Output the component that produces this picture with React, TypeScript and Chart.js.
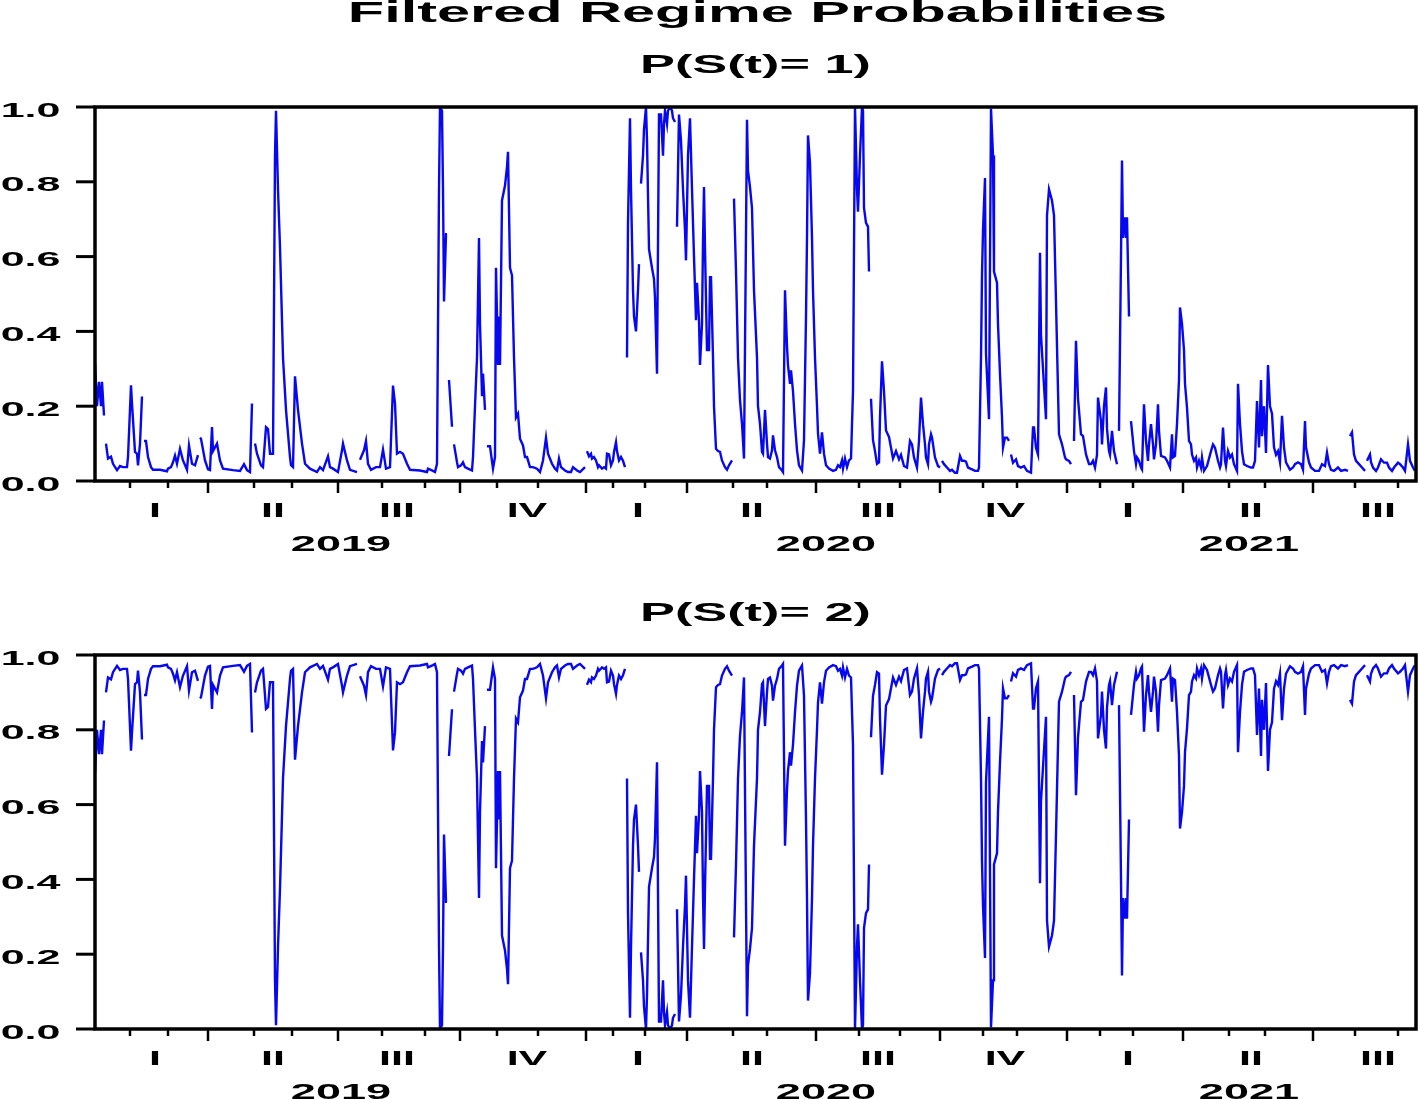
import React, { useEffect, useRef } from 'react';
import { Chart, registerables } from 'chart.js';

Chart.register(...registerables);

// ---- axis data ----
const X_MIN = 0;
const X_MAX = 660.5;
const yTickValues = [0, 0.2, 0.4, 0.6, 0.8, 1.0];
const monthTickPos = [17.5, 36.5, 56.5, 79.5, 98.5, 121.5, 143.5, 165, 182.5, 201, 221.5, 245.5, 259, 275, 296, 319, 336, 360.5, 382, 402.5, 422.5, 444, 461, 486, 502.5, 519, 544, 567, 585, 609, 630, 651.5];
const quarterTickPos = [56.5, 121.5, 182.5, 245.5, 296, 360.5, 422.5, 486, 544, 609];
const quarterLabels = ['I', 'II', 'III', 'IV', 'I', 'II', 'III', 'IV', 'I', 'II', 'III'];
const quarterLabelPos = [30, 89, 151, 216, 271.5, 328.5, 391.5, 455, 516.5, 578, 641.5];
const yearLabels = ['2019', '2020', '2021'];
const yearLabelPos = [123, 365.5, 577];

// ---- series: [observation index, probability] (null = missing) ----
const regime1Points: [number, number | null][] = [
  [0,0.315],[1,0.2],[2,0.265],[3,0.2],[3.5,0.265],[4.5,0.175],[5,null],
  [5.5,0.1],[6.5,0.06],[8,0.065],[9,0.046],[11,0.029],[12.5,0.04],[14,0.037],[16,0.037],[16.5,0.064],[18,0.256],[18.5,0.207],[20,0.078],[21,0.073],[21.5,0.042],[22.5,0.1],[23.5,0.226],[24,null],
  [24.5,0.107],[25.5,0.107],[26.5,0.064],[28,0.037],[29,0.03],[32.5,0.03],[36,0.026],[36.5,0.033],[38,0.037],[39,0.05],[40,0.068],[41,0.046],[42.5,0.086],[44,0.055],[46,0.03],[47,0.095],[48.5,0.046],[50,0.042],[51.5,0.069],[52,null],
  [52.5,0.116],[53,0.113],[55,0.055],[56.5,0.031],[57.5,0.029],[58.5,0.144],[59,0.08],[61,0.1],[62.5,0.055],[64,0.033],[69,0.029],[72.5,0.027],[74.5,0.045],[76,0.029],[77.5,0.024],[78.5,0.207],[79.5,null],
  [80,0.1],[81,0.073],[83,0.042],[84,0.037],[85.5,0.144],[86.5,0.139],[87.5,0.073],[89,0.073],[90,0.87],[90.5,0.99],[91.5,0.78],[92.5,0.625],[94,0.33],[95.5,0.19],[97.5,0.064],[98,0.042],[99,0.037],[100,0.28],[101.5,0.19],[103.5,0.1],[105,0.046],[107.5,0.033],[111,0.024],[112.5,0.037],[114,0.029],[116.5,0.066],[117.5,0.037],[119,0.033],[121.5,0.024],[123.5,0.082],[124,0.1],[126,0.055],[127.5,0.03],[131,0.024],[132,null],
  [132.5,0.057],[134.5,0.082],[135.5,0.107],[136.5,0.046],[138,0.03],[140.5,0.037],[142.5,0.037],[144,0.084],[145.5,0.033],[147.5,0.037],[149,0.255],[150,0.207],[151,0.073],[152.5,0.078],[154,0.073],[156,0.046],[157.5,0.03],[162.5,0.028],[166,0.024],[166.5,0.033],[169,0.027],[170,0.024],[171,0.046],[172,0.78],[172.5,1.0],[173.5,0.99],[174,0.78],[174.5,0.48],[175.5,0.66],[176,0.66],[176.5,null],
  [177,0.27],[178.5,0.145],[179,null],
  [179.5,0.098],[181,0.05],[181.5,0.037],[183,0.042],[184,0.05],[185,0.037],[186.5,0.033],[188.5,0.028],[189,0.064],[190,0.2],[191,0.33],[192,0.65],[192.5,0.42],[193.5,0.23],[194,0.287],[195,0.19],[195.5,null],
  [196,0.093],[197.5,0.093],[199,0.033],[200,0.064],[200.5,0.57],[201.5,0.31],[202,0.44],[202.5,0.31],[203.5,0.75],[205,0.79],[206,0.84],[206.5,0.88],[207.5,0.57],[208.5,0.55],[209.5,0.33],[210.5,0.17],[211.5,0.18],[212.5,0.113],[214,0.095],[215,0.064],[216,0.064],[217.5,0.037],[219,0.037],[221,0.033],[222.5,0.024],[224,0.055],[225.5,0.116],[226.5,0.073],[228.5,0.046],[230,0.033],[231,0.028],[232,0.06],[233,0.037],[235,0.028],[236.5,0.024],[238,0.024],[239,0.037],[241,0.028],[242.5,0.024],[245,0.037],[245.5,null],
  [246,0.08],[247,0.066],[248,0.073],[248.5,0.06],[249.5,0.064],[250.5,0.055],[251.5,0.037],[252,0.042],[253.5,0.033],[254.5,0.037],[255.5,0.033],[256,0.073],[257,0.071],[258,0.042],[259,0.055],[259.5,0.078],[260.5,0.104],[261,0.08],[262,0.055],[263,0.064],[264,0.054],[265,0.037],[265.5,null],
  [266,0.33],[266.5,0.69],[267.5,0.97],[268,0.78],[269,0.51],[269.5,0.44],[270.5,0.4],[271.5,0.51],[272,0.58],[272.5,null],
  [273,0.795],[274,0.87],[274.5,0.94],[275.5,1.0],[276,0.91],[277,0.62],[278.5,0.57],[279.5,0.54],[280,0.49],[281,0.287],[282,0.98],[283,0.98],[284,0.87],[284.5,0.955],[285,0.99],[286,0.955],[286.5,0.99],[287.5,1.0],[288.5,0.99],[289,0.97],[290,0.96],[290.5,null],
  [291,0.68],[292,0.98],[293,0.91],[294,0.78],[295,0.67],[295.5,0.59],[296.5,0.87],[297.5,0.97],[298.5,0.78],[299.5,0.6],[300.5,0.43],[301,0.53],[302,0.43],[302.5,0.31],[303.5,0.42],[304,0.64],[304.5,0.786],[305,0.62],[306,0.35],[307,0.35],[307.5,0.545],[308,0.545],[309,0.33],[309.5,0.2],[310.5,0.086],[311.5,0.08],[312.5,0.078],[313.5,0.055],[315,0.037],[316,0.03],[317,0.042],[318.5,0.055],[319,null],
  [319.5,0.755],[320.5,0.56],[321.5,0.33],[322.5,0.216],[323.5,0.153],[324.5,0.06],[326,0.966],[326.5,0.83],[327.5,0.786],[328.5,0.73],[329.5,0.51],[331,0.33],[331.5,0.2],[332.5,0.153],[333.5,0.078],[334,0.073],[335,0.19],[336,0.1],[336.5,0.064],[337.5,0.06],[338.5,0.082],[339,0.122],[340,0.082],[341,0.064],[342,0.037],[343.5,0.028],[344,0.024],[345,0.51],[346,0.36],[346.5,0.31],[347.5,0.26],[348,0.296],[349,0.24],[350,0.153],[351,0.082],[352,0.042],[353.5,0.028],[354.5,0.109],[355.5,0.44],[356,0.65],[356.5,0.924],[357.5,0.85],[358.5,0.65],[359,0.51],[360,0.33],[361,0.2],[361.5,0.127],[362.5,0.073],[363.5,0.13],[364.5,0.073],[365.5,0.042],[367,0.033],[369,0.027],[370.5,0.03],[371.5,0.042],[372.5,0.037],[373.5,0.055],[374,0.033],[375,0.06],[376,0.037],[377,0.055],[378,0.06],[379,0.24],[380,1.0],[381,0.78],[381.5,0.72],[382.5,0.87],[383.5,1.0],[384,0.99],[384.5,0.73],[385.5,0.69],[386.5,0.68],[387,0.56],[387.5,null],
  [388,0.22],[389,0.109],[390,0.08],[391,0.046],[392,0.05],[392.5,0.17],[393.5,0.32],[394.5,0.24],[395.5,0.135],[397,0.118],[399,0.06],[400.5,0.08],[402,0.058],[403,0.07],[404.5,0.04],[406,0.036],[407.5,0.107],[408.5,0.098],[409.5,0.063],[411,0.036],[412,0.107],[413,0.223],[414,0.152],[415,0.098],[415.5,0.063],[416.5,0.045],[417,0.098],[418,0.125],[418.5,0.116],[420,0.063],[421.5,0.04],[422.5,0.036],[423,null],
  [423.5,0.054],[424.5,0.045],[426,0.036],[427.5,0.027],[428.5,0.03],[430,0.022],[431,0.022],[432.5,0.067],[433.5,0.054],[434.5,0.054],[435.5,0.052],[436.5,0.036],[438.5,0.031],[440,0.027],[441.5,0.027],[442,0.036],[443,0.33],[443.5,0.55],[444,0.67],[445,0.81],[445.5,0.34],[447,0.165],[448,0.996],[449,0.87],[449.5,0.56],[451,0.53],[451.5,0.42],[452.5,0.286],[453.5,0.17],[454,0.089],[455,0.116],[456,0.116],[457,0.107],[457.5,null],
  [458,0.071],[459,0.049],[460.5,0.058],[461.5,0.04],[463,0.036],[464.5,0.04],[466,0.027],[468,0.022],[469,0.143],[469.5,0.143],[470.5,0.089],[471.5,0.071],[472.5,0.61],[473,0.39],[475.5,0.165],[476,0.71],[477,0.78],[478.5,0.75],[479.5,0.71],[480.5,0.48],[481,0.36],[482,0.125],[483.5,0.098],[485,0.063],[485.5,0.058],[487,0.054],[488,0.045],[489,null],
  [489.5,0.107],[490.5,0.375],[491.5,0.22],[493,0.125],[494,0.12],[495.5,0.071],[497,0.045],[498,0.045],[499,0.054],[500,0.036],[501,0.07],[501.5,0.223],[503,0.16],[503.5,0.098],[504.5,0.2],[505.5,0.25],[506,0.14],[507,0.08],[507.5,0.07],[508.5,0.134],[509.5,0.08],[511,0.045],[511.5,null],
  [512,0.134],[513,0.6],[513.5,0.857],[514,0.65],[515,0.705],[515.5,0.65],[516,0.705],[517,0.44],[517.5,null],
  [518,0.16],[519.5,0.08],[520.5,0.045],[521,0.063],[522,0.054],[523,0.036],[523.5,0.031],[524.5,0.205],[525.5,0.107],[526.5,0.054],[527,0.098],[528,0.152],[529,0.098],[529.5,0.058],[530.5,0.098],[531.5,0.205],[532,0.134],[533,0.067],[535,0.063],[536,0.054],[537.5,0.036],[538.5,0.125],[539,0.063],[540,0.067],[541,0.152],[542,0.27],[542.5,0.464],[543.5,0.42],[544.5,0.35],[545,0.26],[546,0.196],[547,0.107],[548,0.098],[548.5,0.071],[549.5,0.054],[550.5,0.063],[551,0.036],[552,0.054],[553,0.036],[553.5,0.063],[554.5,0.027],[556,0.04],[558,0.08],[559,0.098],[560,0.089],[561.5,0.054],[562.5,0.036],[563,0.045],[564,0.143],[565,0.054],[565.5,0.04],[566.5,0.08],[567.5,0.063],[568.5,0.071],[569.5,0.045],[571,0.027],[571.5,0.26],[572.5,0.152],[573.5,0.08],[574.5,0.045],[576,0.04],[578,0.036],[579,0.036],[580,0.054],[581,0.214],[582,0.09],[583,0.27],[583.5,0.12],[584.5,0.2],[585.5,0.075],[586.5,0.31],[587.5,0.2],[588.5,0.18],[589.5,0.09],[590.5,0.07],[591.5,0.08],[592.5,0.05],[593.5,0.174],[594.5,0.09],[595.5,0.05],[597.5,0.03],[599,0.036],[600,0.045],[601.5,0.05],[603,0.045],[604,0.03],[605,0.16],[605.5,0.09],[607,0.05],[608,0.036],[610,0.027],[612,0.027],[613.5,0.045],[615,0.04],[616,0.076],[617,0.045],[618,0.03],[619.5,0.027],[621.5,0.036],[623,0.027],[625,0.03],[626.5,0.027],[627,null],
  [627.5,0.12],[628.5,0.13],[629.5,0.071],[630.5,0.054],[632,0.045],[633.5,0.036],[635,0.027],[635.5,null],
  [636,0.054],[637.5,0.071],[638,0.05],[639,0.036],[640.5,0.027],[641.5,0.036],[643,0.058],[644.5,0.049],[646,0.049],[647,0.036],[648.5,0.027],[649.5,0.036],[651.5,0.049],[652.5,0.045],[654,0.036],[655,0.027],[656.5,0.098],[657.5,0.054],[659,0.036],[660,0.027],
];

const regime2Points: [number, number | null][] = [
  [0,0.685],[1,0.8],[2,0.735],[3,0.8],[3.5,0.735],[4.5,0.825],[5,null],
  [5.5,0.9],[6.5,0.94],[8,0.935],[9,0.954],[11,0.971],[12.5,0.96],[14,0.963],[16,0.963],[16.5,0.936],[18,0.744],[18.5,0.793],[20,0.922],[21,0.927],[21.5,0.958],[22.5,0.9],[23.5,0.774],[24,null],
  [24.5,0.893],[25.5,0.893],[26.5,0.936],[28,0.963],[29,0.97],[32.5,0.97],[36,0.974],[36.5,0.967],[38,0.963],[39,0.95],[40,0.932],[41,0.954],[42.5,0.914],[44,0.945],[46,0.97],[47,0.905],[48.5,0.954],[50,0.958],[51.5,0.931],[52,null],
  [52.5,0.884],[53,0.887],[55,0.945],[56.5,0.969],[57.5,0.971],[58.5,0.856],[59,0.92],[61,0.9],[62.5,0.945],[64,0.967],[69,0.971],[72.5,0.973],[74.5,0.955],[76,0.971],[77.5,0.976],[78.5,0.793],[79.5,null],
  [80,0.9],[81,0.927],[83,0.958],[84,0.963],[85.5,0.856],[86.5,0.861],[87.5,0.927],[89,0.927],[90,0.13],[90.5,0.01],[91.5,0.22],[92.5,0.375],[94,0.67],[95.5,0.81],[97.5,0.936],[98,0.958],[99,0.963],[100,0.72],[101.5,0.81],[103.5,0.9],[105,0.954],[107.5,0.967],[111,0.976],[112.5,0.963],[114,0.971],[116.5,0.934],[117.5,0.963],[119,0.967],[121.5,0.976],[123.5,0.918],[124,0.9],[126,0.945],[127.5,0.97],[131,0.976],[132,null],
  [132.5,0.943],[134.5,0.918],[135.5,0.893],[136.5,0.954],[138,0.97],[140.5,0.963],[142.5,0.963],[144,0.916],[145.5,0.967],[147.5,0.963],[149,0.745],[150,0.793],[151,0.927],[152.5,0.922],[154,0.927],[156,0.954],[157.5,0.97],[162.5,0.972],[166,0.976],[166.5,0.967],[169,0.973],[170,0.976],[171,0.954],[172,0.22],[172.5,0.0],[173.5,0.01],[174,0.22],[174.5,0.52],[175.5,0.34],[176,0.34],[176.5,null],
  [177,0.73],[178.5,0.855],[179,null],
  [179.5,0.902],[181,0.95],[181.5,0.963],[183,0.958],[184,0.95],[185,0.963],[186.5,0.967],[188.5,0.972],[189,0.936],[190,0.8],[191,0.67],[192,0.35],[192.5,0.58],[193.5,0.77],[194,0.713],[195,0.81],[195.5,null],
  [196,0.907],[197.5,0.907],[199,0.967],[200,0.936],[200.5,0.43],[201.5,0.69],[202,0.56],[202.5,0.69],[203.5,0.25],[205,0.21],[206,0.16],[206.5,0.12],[207.5,0.43],[208.5,0.45],[209.5,0.67],[210.5,0.83],[211.5,0.82],[212.5,0.887],[214,0.905],[215,0.936],[216,0.936],[217.5,0.963],[219,0.963],[221,0.967],[222.5,0.976],[224,0.945],[225.5,0.884],[226.5,0.927],[228.5,0.954],[230,0.967],[231,0.972],[232,0.94],[233,0.963],[235,0.972],[236.5,0.976],[238,0.976],[239,0.963],[241,0.972],[242.5,0.976],[245,0.963],[245.5,null],
  [246,0.92],[247,0.934],[248,0.927],[248.5,0.94],[249.5,0.936],[250.5,0.945],[251.5,0.963],[252,0.958],[253.5,0.967],[254.5,0.963],[255.5,0.967],[256,0.927],[257,0.929],[258,0.958],[259,0.945],[259.5,0.922],[260.5,0.896],[261,0.92],[262,0.945],[263,0.936],[264,0.946],[265,0.963],[265.5,null],
  [266,0.67],[266.5,0.31],[267.5,0.03],[268,0.22],[269,0.49],[269.5,0.56],[270.5,0.6],[271.5,0.49],[272,0.42],[272.5,null],
  [273,0.205],[274,0.13],[274.5,0.06],[275.5,0.0],[276,0.09],[277,0.38],[278.5,0.43],[279.5,0.46],[280,0.51],[281,0.713],[282,0.02],[283,0.02],[284,0.13],[284.5,0.045],[285,0.01],[286,0.045],[286.5,0.01],[287.5,0.0],[288.5,0.01],[289,0.03],[290,0.04],[290.5,null],
  [291,0.32],[292,0.02],[293,0.09],[294,0.22],[295,0.33],[295.5,0.41],[296.5,0.13],[297.5,0.03],[298.5,0.22],[299.5,0.4],[300.5,0.57],[301,0.47],[302,0.57],[302.5,0.69],[303.5,0.58],[304,0.36],[304.5,0.214],[305,0.38],[306,0.65],[307,0.65],[307.5,0.455],[308,0.455],[309,0.67],[309.5,0.8],[310.5,0.914],[311.5,0.92],[312.5,0.922],[313.5,0.945],[315,0.963],[316,0.97],[317,0.958],[318.5,0.945],[319,null],
  [319.5,0.245],[320.5,0.44],[321.5,0.67],[322.5,0.784],[323.5,0.847],[324.5,0.94],[326,0.034],[326.5,0.17],[327.5,0.214],[328.5,0.27],[329.5,0.49],[331,0.67],[331.5,0.8],[332.5,0.847],[333.5,0.922],[334,0.927],[335,0.81],[336,0.9],[336.5,0.936],[337.5,0.94],[338.5,0.918],[339,0.878],[340,0.918],[341,0.936],[342,0.963],[343.5,0.972],[344,0.976],[345,0.49],[346,0.64],[346.5,0.69],[347.5,0.74],[348,0.704],[349,0.76],[350,0.847],[351,0.918],[352,0.958],[353.5,0.972],[354.5,0.891],[355.5,0.56],[356,0.35],[356.5,0.076],[357.5,0.15],[358.5,0.35],[359,0.49],[360,0.67],[361,0.8],[361.5,0.873],[362.5,0.927],[363.5,0.87],[364.5,0.927],[365.5,0.958],[367,0.967],[369,0.973],[370.5,0.97],[371.5,0.958],[372.5,0.963],[373.5,0.945],[374,0.967],[375,0.94],[376,0.963],[377,0.945],[378,0.94],[379,0.76],[380,0.0],[381,0.22],[381.5,0.28],[382.5,0.13],[383.5,0.0],[384,0.01],[384.5,0.27],[385.5,0.31],[386.5,0.32],[387,0.44],[387.5,null],
  [388,0.78],[389,0.891],[390,0.92],[391,0.954],[392,0.95],[392.5,0.83],[393.5,0.68],[394.5,0.76],[395.5,0.865],[397,0.882],[399,0.94],[400.5,0.92],[402,0.942],[403,0.93],[404.5,0.96],[406,0.964],[407.5,0.893],[408.5,0.902],[409.5,0.937],[411,0.964],[412,0.893],[413,0.777],[414,0.848],[415,0.902],[415.5,0.937],[416.5,0.955],[417,0.902],[418,0.875],[418.5,0.884],[420,0.937],[421.5,0.96],[422.5,0.964],[423,null],
  [423.5,0.946],[424.5,0.955],[426,0.964],[427.5,0.973],[428.5,0.97],[430,0.978],[431,0.978],[432.5,0.933],[433.5,0.946],[434.5,0.946],[435.5,0.948],[436.5,0.964],[438.5,0.969],[440,0.973],[441.5,0.973],[442,0.964],[443,0.67],[443.5,0.45],[444,0.33],[445,0.19],[445.5,0.66],[447,0.835],[448,0.004],[449,0.13],[449.5,0.44],[451,0.47],[451.5,0.58],[452.5,0.714],[453.5,0.83],[454,0.911],[455,0.884],[456,0.884],[457,0.893],[457.5,null],
  [458,0.929],[459,0.951],[460.5,0.942],[461.5,0.96],[463,0.964],[464.5,0.96],[466,0.973],[468,0.978],[469,0.857],[469.5,0.857],[470.5,0.911],[471.5,0.929],[472.5,0.39],[473,0.61],[475.5,0.835],[476,0.29],[477,0.22],[478.5,0.25],[479.5,0.29],[480.5,0.52],[481,0.64],[482,0.875],[483.5,0.902],[485,0.937],[485.5,0.942],[487,0.946],[488,0.955],[489,null],
  [489.5,0.893],[490.5,0.625],[491.5,0.78],[493,0.875],[494,0.88],[495.5,0.929],[497,0.955],[498,0.955],[499,0.946],[500,0.964],[501,0.93],[501.5,0.777],[503,0.84],[503.5,0.902],[504.5,0.8],[505.5,0.75],[506,0.86],[507,0.92],[507.5,0.93],[508.5,0.866],[509.5,0.92],[511,0.955],[511.5,null],
  [512,0.866],[513,0.4],[513.5,0.143],[514,0.35],[515,0.295],[515.5,0.35],[516,0.295],[517,0.56],[517.5,null],
  [518,0.84],[519.5,0.92],[520.5,0.955],[521,0.937],[522,0.946],[523,0.964],[523.5,0.969],[524.5,0.795],[525.5,0.893],[526.5,0.946],[527,0.902],[528,0.848],[529,0.902],[529.5,0.942],[530.5,0.902],[531.5,0.795],[532,0.866],[533,0.933],[535,0.937],[536,0.946],[537.5,0.964],[538.5,0.875],[539,0.937],[540,0.933],[541,0.848],[542,0.73],[542.5,0.536],[543.5,0.58],[544.5,0.65],[545,0.74],[546,0.804],[547,0.893],[548,0.902],[548.5,0.929],[549.5,0.946],[550.5,0.937],[551,0.964],[552,0.946],[553,0.964],[553.5,0.937],[554.5,0.973],[556,0.96],[558,0.92],[559,0.902],[560,0.911],[561.5,0.946],[562.5,0.964],[563,0.955],[564,0.857],[565,0.946],[565.5,0.96],[566.5,0.92],[567.5,0.937],[568.5,0.929],[569.5,0.955],[571,0.973],[571.5,0.74],[572.5,0.848],[573.5,0.92],[574.5,0.955],[576,0.96],[578,0.964],[579,0.964],[580,0.946],[581,0.786],[582,0.91],[583,0.73],[583.5,0.88],[584.5,0.8],[585.5,0.925],[586.5,0.69],[587.5,0.8],[588.5,0.82],[589.5,0.91],[590.5,0.93],[591.5,0.92],[592.5,0.95],[593.5,0.826],[594.5,0.91],[595.5,0.95],[597.5,0.97],[599,0.964],[600,0.955],[601.5,0.95],[603,0.955],[604,0.97],[605,0.84],[605.5,0.91],[607,0.95],[608,0.964],[610,0.973],[612,0.973],[613.5,0.955],[615,0.96],[616,0.924],[617,0.955],[618,0.97],[619.5,0.973],[621.5,0.964],[623,0.973],[625,0.97],[626.5,0.973],[627,null],
  [627.5,0.88],[628.5,0.87],[629.5,0.929],[630.5,0.946],[632,0.955],[633.5,0.964],[635,0.973],[635.5,null],
  [636,0.946],[637.5,0.929],[638,0.95],[639,0.964],[640.5,0.973],[641.5,0.964],[643,0.942],[644.5,0.951],[646,0.951],[647,0.964],[648.5,0.973],[649.5,0.964],[651.5,0.951],[652.5,0.955],[654,0.964],[655,0.973],[656.5,0.902],[657.5,0.946],[659,0.964],[660,0.973],
];

const MAIN_TITLE = 'Filtered Regime Probabilities';
const SUBTITLE_1 = 'P(S(t)= 1)';
const SUBTITLE_2 = 'P(S(t)= 2)';

// ---- drawing helpers ----
const FONT = '"Liberation Sans", Arial, Helvetica, sans-serif';
const STRETCH = 2.05;
const LINE_COLOR = 'rgb(8,8,240)';

function wideText(ctx: CanvasRenderingContext2D, text: string, x: number, y: number, size: number, align: CanvasTextAlign) {
  ctx.save();
  ctx.font = `bold ${size}px ${FONT}`;
  ctx.fillStyle = '#000';
  ctx.textBaseline = 'alphabetic';
  ctx.textAlign = align;
  ctx.translate(x, y);
  ctx.scale(STRETCH, 1);
  ctx.fillText(text, 0, 0);
  ctx.restore();
}

function makeDecorPlugin(subtitle: string, title?: string) {
  return {
    id: 'eviewsDecor',
    afterDraw(chart: any) {
      const ctx: CanvasRenderingContext2D = chart.ctx;
      const a = chart.chartArea;
      const xs = chart.scales.x;
      const ys = chart.scales.y;
      ctx.save();
      ctx.strokeStyle = '#000';
      ctx.lineCap = 'butt';
      // frame
      ctx.lineWidth = 3.5;
      ctx.strokeRect(a.left, a.top, a.right - a.left, a.bottom - a.top);
      // y ticks + labels
      for (const v of yTickValues) {
        const py = ys.getPixelForValue(v);
        ctx.lineWidth = 3;
        ctx.beginPath();
        ctx.moveTo(a.left - 19, py);
        ctx.lineTo(a.left, py);
        ctx.stroke();
        wideText(ctx, v.toFixed(1), a.left - 34.5, py + 9.5, 21, 'right');
      }
      // x ticks
      ctx.lineWidth = 2.5;
      for (const t of monthTickPos) {
        const px = xs.getPixelForValue(t);
        const len = quarterTickPos.includes(t) ? 12 : 7;
        ctx.beginPath();
        ctx.moveTo(px, a.bottom);
        ctx.lineTo(px, a.bottom + len);
        ctx.stroke();
      }
      quarterLabels.forEach((q, i) => {
        wideText(ctx, q, xs.getPixelForValue(quarterLabelPos[i]), a.bottom + 36, 21, 'center');
      });
      yearLabels.forEach((yl, i) => {
        wideText(ctx, yl, xs.getPixelForValue(yearLabelPos[i]), a.bottom + 70, 22, 'center');
      });
      const cx = (a.left + a.right) / 2;
      wideText(ctx, subtitle, cx, a.top - 34, 25.5, 'center');
      if (title) wideText(ctx, title, cx + 2, a.top - 85, 29, 'center');
      ctx.restore();
    },
  };
}

function makeConfig(points: [number, number | null][], padding: any, subtitle: string, title?: string): any {
  return {
    type: 'line',
    data: {
      datasets: [
        {
          data: points.map(([x, y]) => ({ x, y })),
          borderColor: LINE_COLOR,
          borderWidth: 2.4,
          pointRadius: 0,
          tension: 0,
          spanGaps: false,
          fill: false,
        },
      ],
    },
    options: {
      responsive: false,
      animation: false,
      devicePixelRatio: 1,
      layout: { padding },
      plugins: { legend: { display: false }, tooltip: { enabled: false }, title: { display: false } },
      events: [],
      scales: {
        x: { type: 'linear', min: X_MIN, max: X_MAX, display: false },
        y: { type: 'linear', min: 0, max: 1, display: false },
      },
    },
    plugins: [makeDecorPlugin(subtitle, title)],
  };
}

export default function App() {
  const topRef = useRef<HTMLCanvasElement | null>(null);
  const bottomRef = useRef<HTMLCanvasElement | null>(null);

  useEffect(() => {
    const c1 = new Chart(
      topRef.current as HTMLCanvasElement,
      makeConfig(regime1Points, { left: 95, right: 2, top: 107, bottom: 79 }, SUBTITLE_1, MAIN_TITLE)
    );
    const c2 = new Chart(
      bottomRef.current as HTMLCanvasElement,
      makeConfig(regime2Points, { left: 95, right: 2, top: 95, bottom: 70 }, SUBTITLE_2)
    );
    return () => {
      c1.destroy();
      c2.destroy();
    };
  }, []);

  return (
    <div style={{ position: 'absolute', left: 0, top: 0, width: 1418, height: 1099, background: '#fff', overflow: 'hidden' }}>
      <canvas ref={topRef} width={1418} height={560} style={{ display: 'block', width: 1418, height: 560 }} />
      <canvas ref={bottomRef} width={1418} height={539} style={{ display: 'block', width: 1418, height: 539 }} />
    </div>
  );
}
